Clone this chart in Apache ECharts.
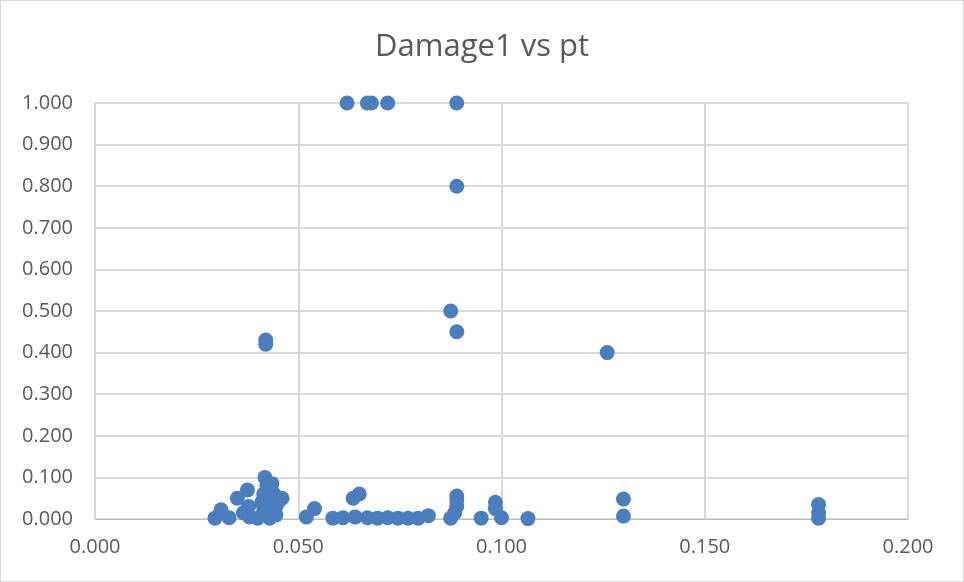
<!DOCTYPE html>
<html>
<head>
<meta charset="utf-8">
<script src="https://cdn.jsdelivr.net/npm/echarts@6/dist/echarts.min.js"></script>
<style>
html, body { margin: 0; padding: 0; background: #fff; }
#chart { width: 964px; height: 582px; box-sizing: border-box; border: 1px solid #d9d9d9; }
</style>
</head>
<body>
<div id="chart"></div>
<script>
// pt values (x) and matching Damage1 values (y)
var ptValues = [
  0.0295, 0.031, 0.033, 0.035, 0.0375, 0.0378, 0.0365, 0.040, 0.0418, 0.0423,
  0.0435, 0.0415, 0.0425, 0.0445, 0.046, 0.0445, 0.043, 0.0415, 0.038, 0.042,
  0.042, 0.0425, 0.044, 0.045, 0.0435, 0.041,
  0.052, 0.054, 0.0585, 0.061, 0.0635, 0.065, 0.064, 0.067, 0.0695, 0.072,
  0.0745, 0.077, 0.0795, 0.082, 0.062, 0.067, 0.068, 0.072, 0.089, 0.089,
  0.0875, 0.089,
  0.0875, 0.0885, 0.089, 0.089, 0.089, 0.095, 0.0985, 0.0985, 0.100, 0.1065,
  0.126, 0.130, 0.130, 0.178, 0.178, 0.178
]
var damageValues = [
  0.002, 0.022, 0.003, 0.05, 0.07, 0.03, 0.015, 0.002, 0.1, 0.08,
  0.085, 0.06, 0.045, 0.03, 0.05, 0.01, 0.002, 0.02, 0.005, 0.43,
  0.42, 0.07, 0.06, 0.04, 0.02, 0.04,
  0.005, 0.025, 0.002, 0.003, 0.05, 0.06, 0.005, 0.003, 0.002, 0.003,
  0.002, 0.002, 0.002, 0.008, 1.0, 1.0, 1.0, 1.0, 1.0, 0.8,
  0.5, 0.45,
  0.002, 0.015, 0.03, 0.055, 0.045, 0.002, 0.04, 0.025, 0.003, 0.001,
  0.4, 0.048, 0.007, 0.035, 0.015, 0.002
]
var chartTitle = 'Damage1 vs pt'

var points = []
for (var i = 0; i < ptValues.length; i++) {
  points.push([ptValues[i], damageValues[i]])
}

var chart = echarts.init(document.getElementById('chart'))
chart.setOption({
  animation: false,
  title: {
    text: chartTitle,
    left: 'center',
    top: 26,
    textStyle: {
      fontFamily: 'Open Sans',
      fontWeight: 'normal',
      fontSize: 31,
      color: '#595959'
    }
  },
  grid: {
    left: 94,
    right: 55,
    top: 102,
    bottom: 62
  },
  xAxis: {
    type: 'value',
    min: 0,
    max: 0.2,
    interval: 0.05,
    axisLine: { show: true, lineStyle: { color: '#bfbfbf', width: 1 } },
    axisTick: { show: false },
    splitLine: { show: true, lineStyle: { color: '#d9d9d9', width: 2 } },
    axisLabel: {
      margin: 18,
      fontFamily: 'Open Sans',
      fontSize: 20,
      color: '#595959',
      formatter: function (v) { return v.toFixed(3) }
    }
  },
  yAxis: {
    type: 'value',
    min: 0,
    max: 1,
    interval: 0.1,
    axisLine: { show: false },
    axisTick: { show: false },
    splitLine: { show: true, lineStyle: { color: '#d9d9d9', width: 2 } },
    axisLabel: {
      margin: 22,
      fontFamily: 'Open Sans',
      fontSize: 20,
      color: '#595959',
      formatter: function (v) { return v.toFixed(3) }
    }
  },
  series: [{
    type: 'scatter',
    data: points,
    symbolSize: 15,
    itemStyle: { color: '#4A7EBF', opacity: 1 }
  }]
})
</script>
</body>
</html>
